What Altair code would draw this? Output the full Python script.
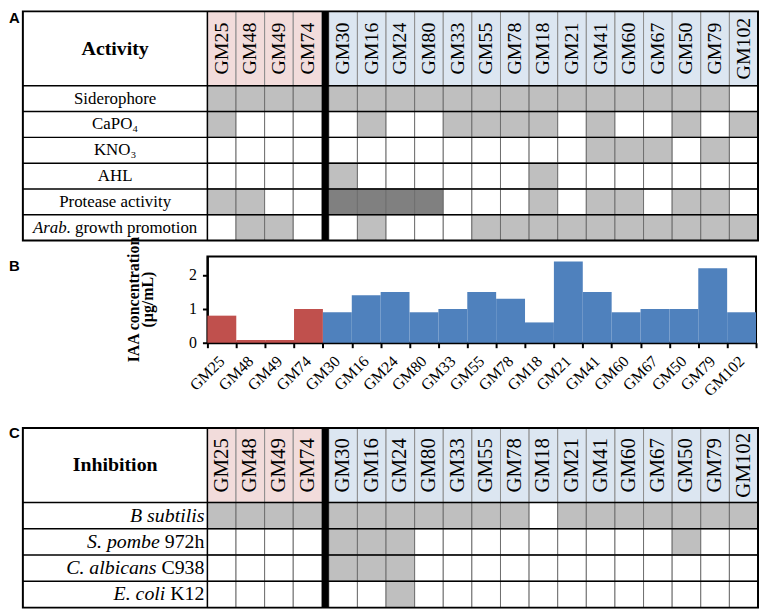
import altair as alt
import pandas as pd

# ---------------- data ----------------
strains = ["GM25", "GM48", "GM49", "GM74", "GM30", "GM16", "GM24", "GM80", "GM33",
           "GM55", "GM78", "GM18", "GM21", "GM41", "GM60", "GM67", "GM50", "GM79", "GM102"]
strain_group = ["g1"] * 4 + ["g2"] * 15

panel_letters = ["A", "B", "C"]

# 0 = negative, 1 = positive, 2 = strongly positive
activity_title = "Activity"
activity_italic = ["", "", "", "", "", "Arab."]
activity_plain = ["Siderophore", "CaPO₄", "KNO₃", "AHL", "Protease activity", "growth promotion"]
siderophore = [1, 1, 1, 1, 1, 1, 1, 1, 1, 1, 1, 1, 1, 1, 1, 1, 1, 1, 0]
capo4 =       [1, 0, 0, 0, 0, 1, 0, 0, 1, 1, 1, 1, 0, 1, 0, 0, 1, 0, 1]
kno3 =        [0, 0, 0, 0, 0, 0, 0, 0, 0, 0, 0, 0, 0, 1, 1, 1, 0, 1, 0]
ahl =         [0, 0, 0, 0, 1, 0, 0, 0, 0, 0, 0, 1, 0, 0, 0, 0, 0, 0, 0]
protease =    [1, 1, 0, 0, 2, 2, 2, 2, 0, 0, 0, 1, 0, 1, 1, 0, 1, 1, 0]
arab =        [0, 1, 1, 0, 0, 1, 0, 0, 0, 1, 1, 1, 1, 1, 1, 1, 1, 1, 1]
activity_values = [siderophore, capo4, kno3, ahl, protease, arab]

iaa_values = [0.8, 0.08, 0.08, 1.0, 0.9, 1.4, 1.5, 0.9, 1.0, 1.5, 1.3, 0.6,
              2.4, 1.5, 0.9, 1.0, 1.0, 2.2, 0.9]
iaa_ticks = [0, 1, 2]
iaa_title = "IAA concentration\n(µg/mL)"

inhibition_title = "Inhibition"
inhibition_italic = ["B subtilis", "S. pombe", "C. albicans", "E. coli"]
inhibition_plain = ["", "972h", "C938", "K12"]
b_subtilis = [1, 1, 1, 1, 1, 1, 1, 1, 1, 1, 1, 0, 1, 1, 1, 1, 1, 1, 1]
s_pombe =    [0, 0, 0, 0, 1, 1, 1, 0, 0, 0, 0, 0, 0, 0, 0, 0, 1, 0, 0]
c_albicans = [0, 0, 0, 0, 1, 1, 1, 0, 0, 0, 0, 0, 0, 0, 0, 0, 0, 0, 0]
e_coli =     [0, 0, 0, 0, 0, 0, 1, 0, 0, 0, 0, 0, 0, 0, 0, 0, 0, 0, 0]
inhibition_values = [b_subtilis, s_pombe, c_albicans, e_coli]

# ---------------- styles ----------------
SERIF = "Liberation Serif"
SANS = "Liberation Sans"
FILL_KEYS = ["g1", "g2", "v0", "v1", "v2"]
FILL_COLOURS = ["#f2dcdb", "#dce6f1", "#ffffff", "#bfbfbf", "#808080"]
BAR_COLOURS = ["#c0504d", "#4f81bd"]
fill_scale = alt.Scale(domain=FILL_KEYS, range=FILL_COLOURS)

N_FIRST = strain_group.count("g1")
TABLE_W = 555
COL_PX = 28.84
GAP = 7 / COL_PX
XMAX = len(strains) + GAP
LBL = 186 / COL_PX
BAR_W = 553
BAR_H = 87


def make_table(letter, title, italic, plain, values, row_px, hdr_px, top_px,
               head_size, label_size, anchor_x, text_pos, default_pos, letter_y):
    n = len(plain)
    hdr = hdr_px / row_px
    top = top_px / row_px
    total = hdr + n
    height = top_px + hdr_px + n * row_px
    xs = alt.Scale(domain=[0, XMAX], nice=False, zero=False)
    ys = alt.Scale(domain=[-top, total], nice=False, zero=False, reverse=True)

    def X(f):
        return alt.X(f, type="quantitative", scale=xs, axis=None)

    def Y(f):
        return alt.Y(f, type="quantitative", scale=ys, axis=None)

    xpos = f"datum.cidx + (datum.cidx >= {N_FIRST} ? {GAP} : 0)"
    cols = pd.DataFrame({"strain": strains, "cidx": list(range(len(strains))), "group": strain_group})
    cells = pd.DataFrame([
        {"strain": s, "cidx": j, "ridx": i, "key": f"v{row[j]}"}
        for i, row in enumerate(values) for j, s in enumerate(strains)
    ])
    rows = pd.DataFrame({"ridx": list(range(n)), "italic": italic, "plain": plain})
    one = pd.DataFrame({"title": [title], "letter": [letter]})

    head = alt.Chart(cols).transform_calculate(
        x0=xpos, x1="datum.x0 + 1", xc="datum.x0 + 0.5",
        y0="0", y1=str(hdr), yc=str(hdr / 2))
    head_rect = head.mark_rect(stroke="#8c8c8c", strokeWidth=1).encode(
        x=X("x0"), x2=alt.X2("x1"), y=Y("y0"), y2=alt.Y2("y1"),
        fill=alt.Fill("group:N", scale=fill_scale, legend=None))
    head_text = head.mark_text(angle=270, font=SERIF, fontSize=head_size, align="center",
                               baseline="middle", color="black").encode(
        x=X("xc"), y=Y("yc"), text="strain:N")

    cell = alt.Chart(cells).transform_calculate(
        x0=xpos, x1="datum.x0 + 1", y0=f"{hdr} + datum.ridx", y1="datum.y0 + 1")
    cell_rect = cell.mark_rect(stroke="#6e6e6e", strokeWidth=1).encode(
        x=X("x0"), x2=alt.X2("x1"), y=Y("y0"), y2=alt.Y2("y1"),
        fill=alt.Fill("key:N", scale=fill_scale, legend=None))

    sep = alt.Chart(cols).transform_filter(f"datum.cidx == {N_FIRST}").transform_calculate(
        xb=xpos, xa=f"datum.xb - {GAP}", ya="0", yb=str(total)).mark_rect(color="black").encode(
        x=X("xa"), x2=alt.X2("xb"), y=Y("ya"), y2=alt.Y2("yb"))

    hrule = alt.Chart(rows).transform_calculate(
        xa=str(-LBL), xb=str(XMAX), y=f"{hdr} + datum.ridx").mark_rule(
        color="black", strokeWidth=1.5).encode(x=X("xa"), x2=alt.X2("xb"), y=Y("y"))

    frame = alt.Chart(one).transform_calculate(
        xa=str(-LBL), xb=str(XMAX), x0="0", ya="0", yb=str(total),
        xc=str(-LBL / 2), yc=str(hdr / 2))
    vrule = frame.mark_rule(color="black", strokeWidth=1.5).encode(
        x=X("x0"), y=Y("ya"), y2=alt.Y2("yb"))
    border = frame.mark_rect(fill="white", fillOpacity=0, stroke="black", strokeWidth=2).encode(
        x=X("xa"), x2=alt.X2("xb"), y=Y("ya"), y2=alt.Y2("yb"))
    title_txt = frame.mark_text(font=SERIF, fontSize=20, fontWeight="bold", color="black",
                                align="center", baseline="middle").encode(
        x=X("xc"), y=Y("yc"), text="title:N")

    label_layers = []
    for i in range(n):
        for part, style in (("italic", "italic"), ("plain", "normal")):
            txt = rows.loc[i, part]
            if not txt:
                continue
            align, dx = text_pos.get(txt, default_pos)
            label_layers.append(
                alt.Chart(rows).transform_filter(f"datum.ridx == {i}").transform_calculate(
                    xa=str(anchor_x), yc=f"{hdr} + datum.ridx + 0.5").mark_text(
                    font=SERIF, fontSize=label_size, fontStyle=style, align=align, dx=dx,
                    baseline="middle", color="black").encode(
                    x=X("xa"), y=Y("yc"), text=f"{part}:N"))

    letter_txt = alt.Chart(one).mark_text(font=SANS, fontSize=15, fontWeight="bold",
                                          align="left", baseline="top", color="black").encode(
        x=alt.value(-200), y=alt.value(letter_y), text="letter:N")

    return alt.layer(head_rect, cell_rect, sep, hrule, vrule, border, head_text, title_txt,
                     *label_layers, letter_txt).properties(width=TABLE_W, height=height)


chartA = make_table(panel_letters[0], activity_title, activity_italic, activity_plain,
                    activity_values, row_px=26, hdr_px=75, top_px=0, head_size=20,
                    label_size=17, anchor_x=-LBL / 2,
                    text_pos={"Arab.": ("right", -44.6), "growth promotion": ("left", -40.4)},
                    default_pos=("center", 0), letter_y=0)

chartC = make_table(panel_letters[2], inhibition_title, inhibition_italic, inhibition_plain,
                    inhibition_values, row_px=26.5, hdr_px=75, top_px=70, head_size=21,
                    label_size=20, anchor_x=0,
                    text_pos={"S. pombe": ("right", -48), "C. albicans": ("right", -51.3),
                              "E. coli": ("right", -42.4)},
                    default_pos=("right", -3), letter_y=68)

iaa_df = pd.DataFrame({"strain": strains, "iaa": iaa_values, "group": strain_group})
bars = alt.Chart(iaa_df).mark_bar().encode(
    x=alt.X("strain:N", sort=strains, title=None,
            scale=alt.Scale(paddingInner=0, paddingOuter=0),
            axis=alt.Axis(labelAngle=315, labelAlign="right", labelBaseline="top",
                          labelOffset=-6, labelOverlap=False, tickBand="extent")),
    y=alt.Y("iaa:Q", scale=alt.Scale(domain=[0, 2.55], nice=False),
            axis=alt.Axis(values=iaa_ticks, title=None)),
    color=alt.Color("group:N", scale=alt.Scale(domain=["g1", "g2"], range=BAR_COLOURS),
                    legend=None))
annot = pd.DataFrame({"letter": [panel_letters[1]], "ytitle": [iaa_title]})
letterB = alt.Chart(annot).mark_text(
    font=SANS, fontSize=15, fontWeight="bold", align="left", baseline="top",
    color="black").encode(x=alt.value(-200), y=alt.value(3), text="letter:N")
ytitleB = alt.Chart(annot).mark_text(
    font=SERIF, fontSize=16, fontWeight="bold", angle=270, align="center",
    baseline="middle", lineBreak="\n", lineHeight=14, color="black").encode(
    x=alt.value(-74), y=alt.value(BAR_H / 2), text="ytitle:N")
chartB = alt.layer(bars, letterB, ytitleB).properties(
    width=BAR_W, height=BAR_H, view=alt.ViewBackground(stroke="black", strokeWidth=2))

chart = alt.vconcat(chartA, chartB, chartC, spacing=16, bounds="flush").properties(
    padding=0, background="white"
).configure_view(strokeWidth=0).configure_axis(
    labelFont=SERIF, labelColor="black", labelFontSize=16,
    tickSize=5, tickWidth=2, tickColor="black",
    domainColor="black", domainWidth=2, grid=False
).configure_axisX(labelPadding=5, labelFontSize=16).configure_axisY(labelPadding=6)

chart.save("out.html", embed_options={"renderer": "svg", "actions": False})
